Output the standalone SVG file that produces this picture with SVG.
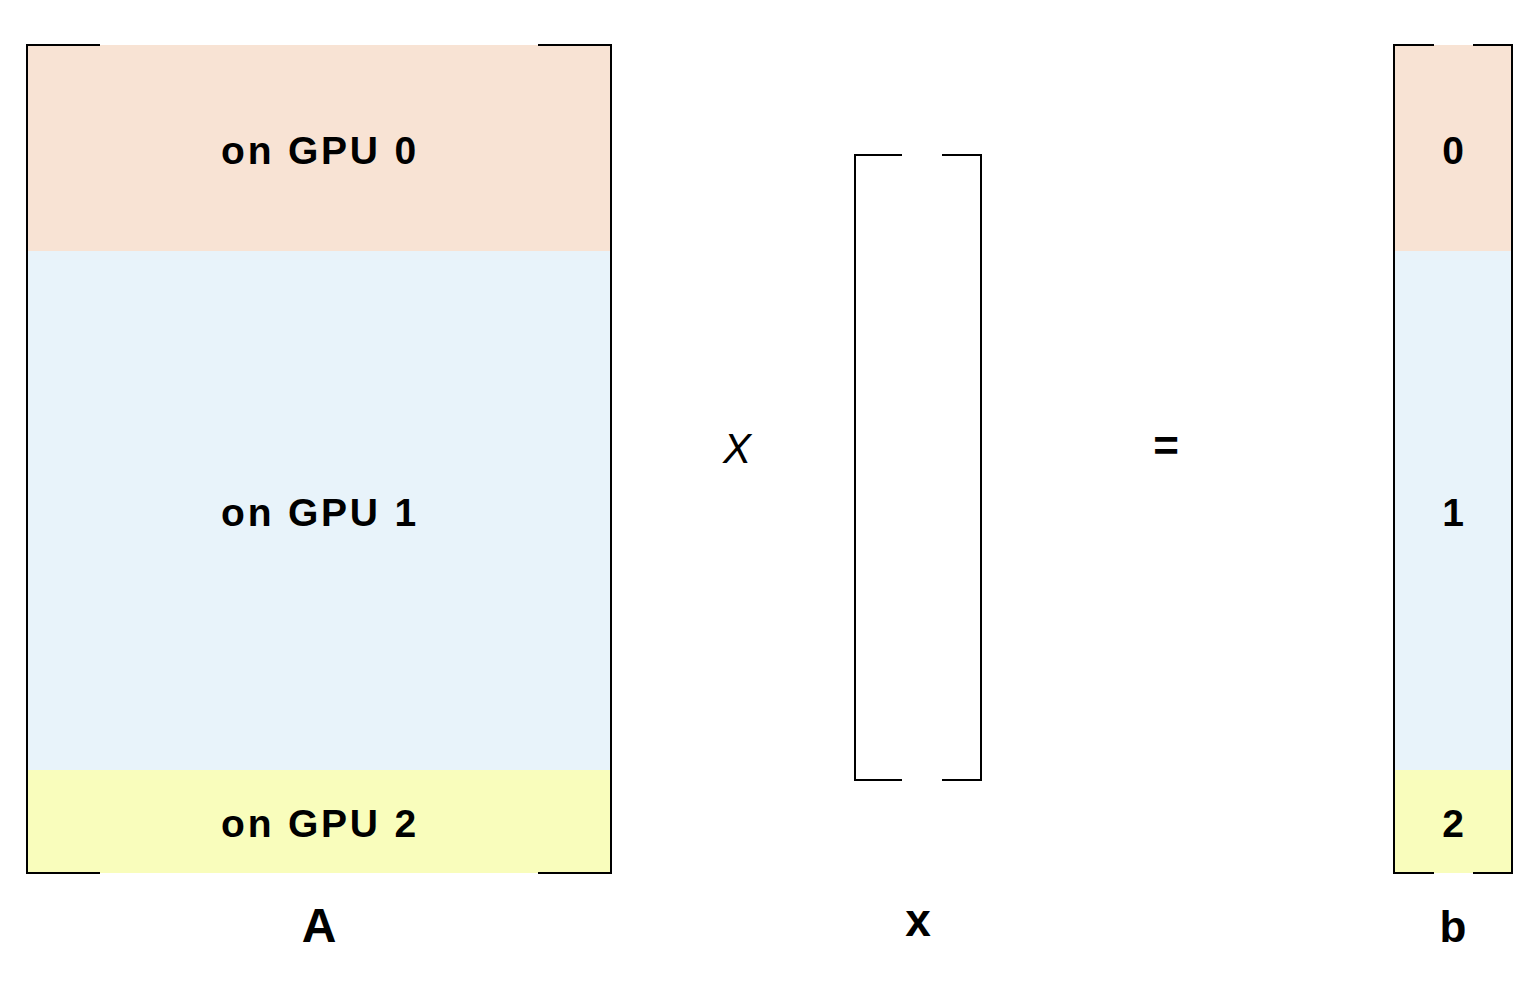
<svg xmlns="http://www.w3.org/2000/svg" width="1536" height="981" viewBox="0 0 1536 981">
<style>
.bk{fill:none;stroke:#000;stroke-width:2}
.lbl{font-family:"Liberation Sans",Arial,sans-serif;font-weight:bold;fill:#000;text-anchor:middle}
.g{font-size:39px;letter-spacing:2.8px}
.n{font-size:39px}
</style>
<rect width="1536" height="981" fill="#fff"/>
<g id="matrixA">
<rect x="27" y="45" width="584" height="207" fill="#f8e3d4"/>
<rect x="27" y="251" width="584" height="520" fill="#e8f3fa"/>
<rect x="27" y="770" width="584" height="103" fill="#f9fdbc"/>
<path class="bk" d="M100,45 H27 V873 H100 M538,45 H611 V873 H538"/>
<text class="lbl g" x="320" y="164">on GPU 0</text>
<text class="lbl g" x="320" y="526">on GPU 1</text>
<text class="lbl g" x="320" y="837">on GPU 2</text>
<text class="lbl" x="319" y="942" style="font-size:48px">A</text>
</g>
<g id="times">
<text x="737" y="463" style="font-family:'Liberation Sans',Arial,sans-serif;font-style:italic;font-size:42px;text-anchor:middle">X</text>
</g>
<g id="vectorX">
<path class="bk" d="M902,155 H855 V780 H902 M942,155 H981 V780 H942"/>
<text class="lbl" x="918" y="936" style="font-size:46px">x</text>
</g>
<g id="equals">
<text class="lbl" x="1166" y="461" style="font-size:44px">=</text>
</g>
<g id="vectorB">
<rect x="1394" y="45" width="118" height="207" fill="#f8e3d4"/>
<rect x="1394" y="251" width="118" height="520" fill="#e8f3fa"/>
<rect x="1394" y="770" width="118" height="103" fill="#f9fdbc"/>
<path class="bk" d="M1434,45 H1394 V873 H1434 M1473,45 H1512 V873 H1473"/>
<text class="lbl n" x="1453" y="164">0</text>
<text class="lbl n" x="1453" y="526">1</text>
<text class="lbl n" x="1453" y="837">2</text>
<text class="lbl" x="1453" y="942" style="font-size:44px">b</text>
</g>
</svg>
